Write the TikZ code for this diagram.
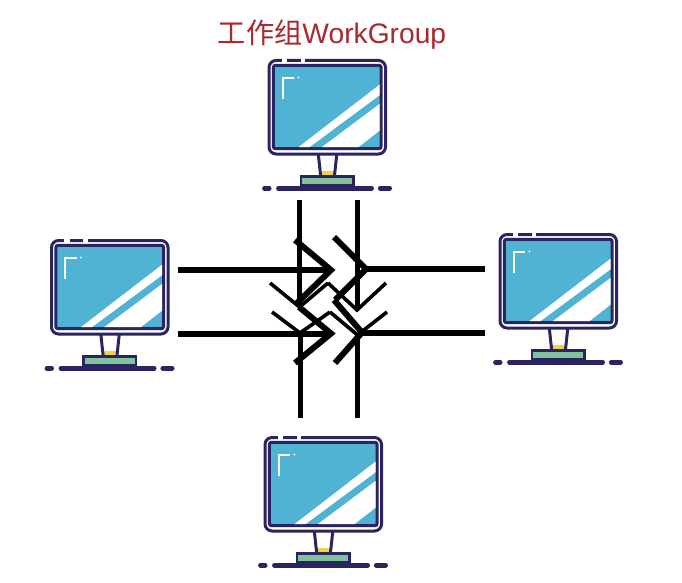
\documentclass[tikz,border=0pt]{standalone}
\usepackage{fontspec}
\newfontfamily\cjk{Noto Sans CJK SC}
\newfontfamily\latn{Liberation Sans}
\definecolor{navy}{HTML}{2A2560}
\definecolor{scr}{HTML}{50B3D4}
\definecolor{grn}{HTML}{7FC49C}
\definecolor{ylw}{HTML}{F6D046}
\definecolor{ttl}{HTML}{A8282C}
\tikzset{
  edge/.style={draw=navy,line width=3pt},
  gnd/.style={draw=navy,line width=4.6pt,line cap=round},
  wire/.style={draw=black,line width=5pt},
  hwire/.style={draw=black,line width=6pt},
  thickbarb/.style={draw=black,line width=6pt},
  thinbarb/.style={draw=black,line width=3.6pt,miter limit=10},
  monitor/.pic={
    \path[edge,fill=white,rounded corners=7pt] (1.3,1.5) rectangle (117.8,95);
    \fill[white] (14,-1) rectangle (19.7,4);
    \fill[white] (33,-1) rectangle (37.3,4);
    \path[edge,fill=scr,rounded corners=2pt] (5.7,6.3) rectangle (113.3,89.7);
    \fill[white] (30.7,88.2) -- (41.7,88.2) -- (111.8,36.3) -- (111.8,25.7) -- cycle;
    \fill[white] (54,88.2) -- (90.7,88.2) -- (111.8,71.7) -- (111.8,45) -- cycle;
    \draw[white,line width=2.4pt] (15,40) -- (15,19) -- (26.3,19);
    \fill[white] (30.7,18.5) circle (1);
    \fill[ylw] (53,111.5) rectangle (67,117.3);
    \path[edge] (50.7,96) -- (53,117.3);
    \path[edge] (69,96) -- (66.7,117.3);
    \path[edge,fill=grn,line width=2.6pt] (33.3,117.3) rectangle (85.7,126.7);
    \path[gnd] (10.7,129.3) -- (104,129.3);
    \path[gnd] (-3.3,129.3) -- (1.5,129.3);
    \path[gnd] (112.5,129.3) -- (122,129.3);
  }
}
\begin{document}
\begin{tikzpicture}[x=1pt,y=-1pt]
\useasboundingbox (0,0) rectangle (682,583);
\fill[white] (0,0) rectangle (682,583);
\node[text=ttl,inner sep=0pt,anchor=center] (title) at (332,34.5)
  {\fontsize{28.2}{28.2}\selectfont\cjk 工作组\latn WorkGroup};
\pic at (267.7,59) {monitor};
\pic at (50.2,239) {monitor};
\pic at (498.7,233) {monitor};
\pic at (263.7,436) {monitor};
% connector ends
\coordinate (lt) at (178,270);   \coordinate (ltip) at (331,270);
\coordinate (lb) at (178,333.5); \coordinate (lbip) at (331,333.5);
\coordinate (rt) at (485,269);   \coordinate (rtip) at (366,269);
\coordinate (rb) at (485,332.5); \coordinate (rbip) at (362,332.5);
\coordinate (tl) at (299.5,200); \coordinate (tlip) at (299.5,307);
\coordinate (tr) at (357,200);   \coordinate (trip) at (357,310);
\coordinate (bl) at (300,418);   \coordinate (blip) at (300,333);
\coordinate (br) at (357.5,418); \coordinate (brip) at (357.5,335);
% wires
\path[wire] (tl) -- (tlip);
\path[wire] (tr) -- (trip);
\path[wire] (bl) -- (blip);
\path[wire] (br) -- (brip);
\path[hwire] (lt) -- (ltip);
\path[hwire] (lb) -- (lbip);
\path[hwire] (rt) -- (rtip);
\path[hwire] (rb) -- (rbip);
% thin vertical heads
\path[thinbarb] (270,283) -- (tlip) -- (328,283);
\path[thinbarb] (328,283) -- (trip) -- (386,283);
\path[thinbarb] (272,312) -- (blip) -- (330,312);
\path[thinbarb] (330,312) -- (brip) -- (387,312);
% thick horizontal heads
\path[thickbarb] (295,240) -- (ltip) -- (297,303);
\path[thickbarb] (299,307) -- (lbip) -- (295,363);
\path[thickbarb] (334,237) -- (rtip) -- (335,300);
\path[thickbarb] (334,300) -- (rbip) -- (335,363);
\end{tikzpicture}
\end{document}
